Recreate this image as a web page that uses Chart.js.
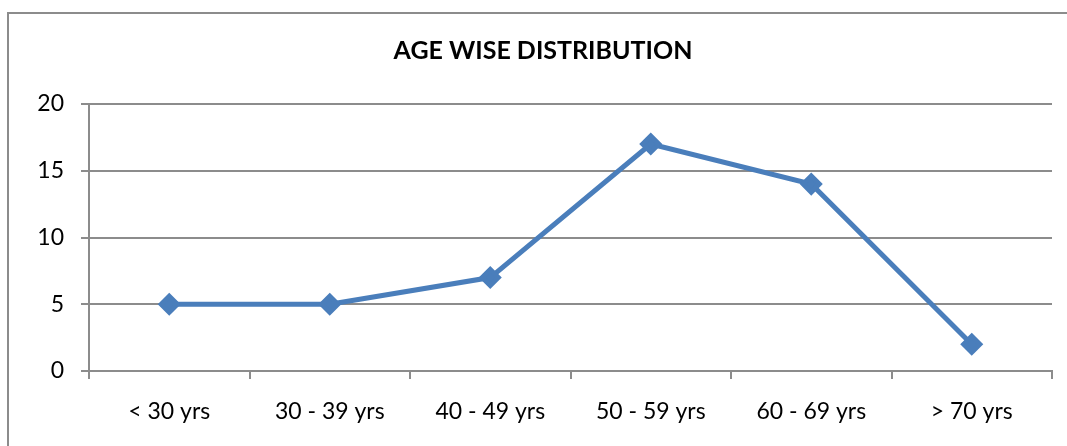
<!DOCTYPE html>
<html>
<head>
<meta charset="utf-8">
<script src="https://cdn.jsdelivr.net/npm/chart.js@4"></script>
<style>
  html, body { margin: 0; padding: 0; background: #fff; }
  #wrap { width: 1067px; height: 446px; position: relative; }
</style>
</head>
<body>
<div id="wrap"><canvas id="ageChart" width="1067" height="446"></canvas></div>
<script>
// data
var categories = ["< 30 yrs", "30 - 39 yrs", "40 - 49 yrs", "50 - 59 yrs", "60 - 69 yrs", "> 70 yrs"];
var counts = [5, 5, 7, 17, 14, 2];
var yTicks = [0, 5, 10, 15, 20];

var gray = '#8c8c8c';
var blue = '#4a7ebb';

// outer frame of the chart box (left and top edge only show in the picture)
var frame = {
    id: 'frame',
    beforeDraw: function (chart) {
        var c = chart.ctx;
        c.save();
        c.strokeStyle = gray;
        c.lineWidth = 2;
        c.beginPath();
        c.moveTo(8, 446);
        c.lineTo(8, 13);
        c.lineTo(1067, 13);
        c.stroke();
        c.restore();
    }
};

var ctx = document.getElementById('ageChart').getContext('2d');
var chart = new Chart(ctx, {
    type: 'line',
    data: {
        labels: categories,
        datasets: [{
            label: 'Age',
            data: counts,
            borderColor: blue,
            backgroundColor: blue,
            borderWidth: 5,
            pointStyle: 'rectRot',
            pointRadius: 8,
            pointHoverRadius: 8,
            tension: 0
        }]
    },
    plugins: [frame],
    options: {
        responsive: false,
        animation: false,
        layout: { padding: { left: 34, right: 15, top: 20, bottom: 21 } },
        plugins: {
            legend: { display: false },
            tooltip: { enabled: false },
            title: {
                display: true,
                text: 'AGE WISE DISTRIBUTION',
                color: '#000',
                font: { family: 'Lato', size: 25, weight: 'bold', lineHeight: 1.2 },
                padding: { top: 16, bottom: 38 }
            }
        },
        scales: {
            x: {
                offset: true,
                afterFit: function (scale) { scale.height = 54; },
                grid: {
                    offset: true,
                    drawOnChartArea: false,
                    drawTicks: true,
                    tickLength: 8,
                    color: gray,
                    lineWidth: 2
                },
                border: { color: gray, width: 2 },
                ticks: {
                    color: '#000',
                    padding: 19,
                    maxRotation: 0,
                    font: { family: 'Lato', size: 23 }
                }
            },
            y: {
                min: 0,
                max: 20,
                afterBuildTicks: function (scale) {
                    scale.ticks = yTicks.map(function (v) { return { value: v }; });
                },
                afterFit: function (scale) { scale.width = 55; },
                grid: {
                    color: gray,
                    lineWidth: 2,
                    tickLength: 8
                },
                border: { color: gray, width: 2 },
                ticks: {
                    color: '#000',
                    padding: 17,
                    font: { family: 'Lato', size: 23 }
                }
            }
        }
    }
});
</script>
</body>
</html>
